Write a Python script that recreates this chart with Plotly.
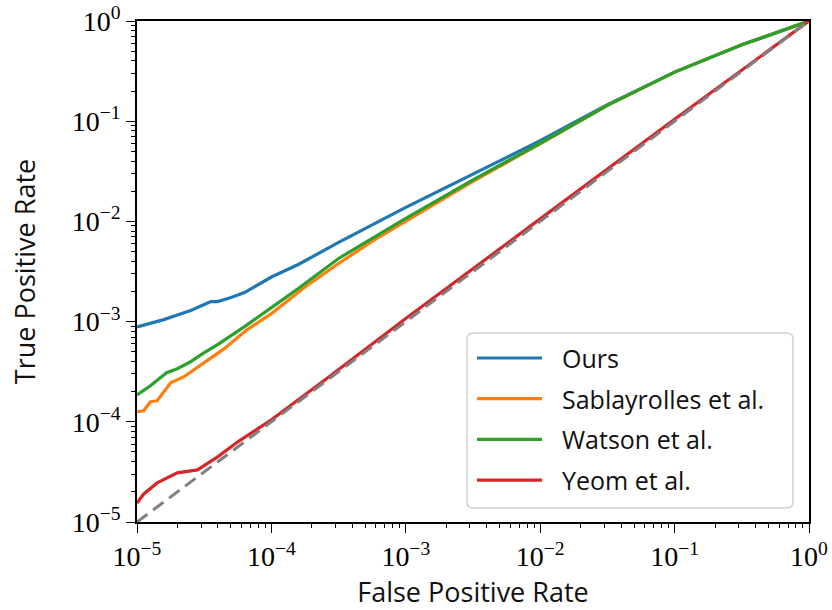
import plotly.graph_objects as go

# ---- data (log10 values) ----
blue_lx = [-5, -4.9, -4.8, -4.7, -4.6, -4.5, -4.45, -4.4, -4.3, -4.2, -4.0, -3.8, -3.5, -3.0, -2.5, -2.0, -1.5, -1.0, -0.5, 0]
blue_ly = [-3.054, -3.02, -2.98, -2.935, -2.89, -2.83, -2.80, -2.80, -2.76, -2.71, -2.555, -2.43, -2.21, -1.86, -1.53, -1.195, -0.835, -0.51, -0.238, 0]

orange_lx = [-5, -4.95, -4.9, -4.85, -4.75, -4.65, -4.5, -4.35, -4.18, -4.0, -3.75, -3.5, -3.24, -3.0, -2.5, -2.0, -1.5, -1.0, -0.5, 0]
orange_ly = [-3.90, -3.89, -3.80, -3.79, -3.61, -3.55, -3.41, -3.27, -3.08, -2.92, -2.655, -2.42, -2.19, -2.00, -1.60, -1.225, -0.842, -0.51, -0.238, 0]

green_lx = [-5, -4.9, -4.78, -4.7, -4.6, -4.5, -4.4, -4.2, -4.0, -3.8, -3.5, -3.0, -2.5, -2.0, -1.5, -1.0, -0.5, 0]
green_ly = [-3.733, -3.64, -3.51, -3.47, -3.40, -3.31, -3.23, -3.05, -2.86, -2.67, -2.37, -1.97, -1.585, -1.22, -0.842, -0.51, -0.238, 0]

red_lx = [-5, -4.95, -4.85, -4.7, -4.55, -4.4, -4.25, -4.0, -3.6, -3.0, -2.0, -1.0, 0]
red_ly = [-4.81, -4.72, -4.61, -4.51, -4.48, -4.35, -4.20, -3.98, -3.58, -2.97, -1.975, -0.98, 0]

diag = [1e-5, 1.0]

names = ["Ours", "Sablayrolles et al.", "Watson et al.", "Yeom et al."]
colors = ["#1f77b4", "#ff7f0e", "#2ca02c", "#d62728"]
xs = [blue_lx, orange_lx, green_lx, red_lx]
ys = [blue_ly, orange_ly, green_ly, red_ly]

tick_exps = [-5, -4, -3, -2, -1, 0]
tick_vals = [10.0 ** e for e in tick_exps]
tick_text = ["10<sup>%s</sup>" % (("\u2212%d" % -e) if e < 0 else "0") for e in tick_exps]
minor_vals = [k * 10.0 ** d for d in range(-5, 0) for k in range(2, 10)]

fig = go.Figure()
for name, lx, ly, col in zip(names, xs, ys, colors):
    fig.add_trace(go.Scatter(
        x=[10 ** v for v in lx], y=[10 ** v for v in ly], mode="lines", name=name,
        line=dict(color=col, width=3.2), showlegend=False))

fig.add_trace(go.Scatter(x=diag, y=diag, mode="lines", showlegend=False,
                         line=dict(color="#808080", width=3, dash="13px,7px")))

# invisible trace on overlay axes carrying minor ticks
fig.add_trace(go.Scatter(x=[1e-5], y=[1e-5], xaxis="x2", yaxis="y2", mode="markers",
                         marker=dict(opacity=0), showlegend=False, hoverinfo="skip"))

tickfont = dict(family="Liberation Serif", size=28, color="black")
titlefont = dict(family="Open Sans", size=27, color="#111")
axis_common = dict(
    type="log", range=[-5, 0], tickmode="array", tickvals=tick_vals, ticktext=tick_text,
    showgrid=False, zeroline=False, automargin=False, ticklabeloverflow="allow",
    showline=True, linecolor="black", linewidth=1.5, mirror=True,
    ticks="outside", ticklen=9, tickwidth=1.3, tickcolor="black",
    tickfont=tickfont,
)
minor_common = dict(
    type="log", range=[-5, 0], tickmode="array", tickvals=minor_vals, showticklabels=False,
    showgrid=False, zeroline=False, automargin=False, showline=False,
    ticks="outside", ticklen=5, tickwidth=1, tickcolor="black",
)

fig.update_layout(
    xaxis=dict(title=dict(text="False Positive Rate", font=titlefont, standoff=24), **axis_common),
    yaxis=dict(title=dict(text="True Positive Rate", font=titlefont, standoff=28), **axis_common),
    xaxis2=dict(overlaying="x", anchor="y", side="bottom", **minor_common),
    yaxis2=dict(overlaying="y", anchor="x", side="left", **minor_common),
    width=832, height=610,
    margin=dict(l=137, r=23, t=21, b=88),
    plot_bgcolor="white", paper_bgcolor="white",
    showlegend=False,
)

# ---- legend drawn in paper space (coordinates in screen pixels) ----
OX, OY = 137, 522
W, H = 672.0, 501.0
def px(x):
    return (x - OX) / W
def py(y):
    return (OY - y) / H

bx0, bx1, by0, by1, r = 467, 793, 333, 508, 6
path = (f"M{px(bx0 + r)},{py(by0)} L{px(bx1 - r)},{py(by0)} Q{px(bx1)},{py(by0)} {px(bx1)},{py(by0 + r)} "
        f"L{px(bx1)},{py(by1 - r)} Q{px(bx1)},{py(by1)} {px(bx1 - r)},{py(by1)} "
        f"L{px(bx0 + r)},{py(by1)} Q{px(bx0)},{py(by1)} {px(bx0)},{py(by1 - r)} "
        f"L{px(bx0)},{py(by0 + r)} Q{px(bx0)},{py(by0)} {px(bx0 + r)},{py(by0)} Z")
fig.add_shape(type="path", path=path, xref="paper", yref="paper",
              line=dict(color="#d0d0d0", width=1.5), fillcolor="rgba(255,255,255,0.85)", layer="above")
for i, (name, col) in enumerate(zip(names, colors)):
    yy = 358 + 40.7 * i
    fig.add_shape(type="line", xref="paper", yref="paper", x0=px(477), x1=px(542), y0=py(yy), y1=py(yy),
                  line=dict(color=col, width=3.2), layer="above")
    fig.add_annotation(x=px(560), y=py(yy), xref="paper", yref="paper", text=name, showarrow=False,
                       xanchor="left", yanchor="middle", font=dict(family="Open Sans", size=25, color="#111"))

fig.write_html("out.html", config={"displayModeBar": False},
               post_script="document.body.style.margin='0';document.body.style.overflow='hidden';")
